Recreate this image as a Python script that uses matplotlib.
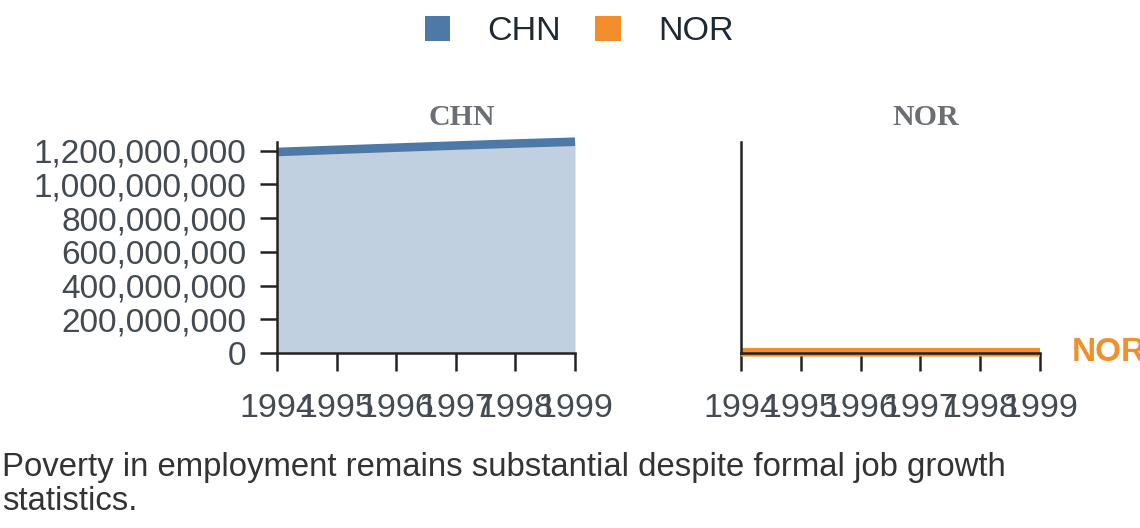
import matplotlib
matplotlib.use("Agg")
import matplotlib.pyplot as plt
from matplotlib.patches import Patch
from matplotlib.ticker import FuncFormatter, MultipleLocator

plt.rcParams['font.family'] = ['Liberation Sans', 'DejaVu Sans']

# data
years = [1994, 1995, 1996, 1997, 1998, 1999]
chn = [1191835000, 1204855000, 1217550000, 1230075000, 1241935000, 1252735000]
nor = [4336613, 4359184, 4381336, 4405157, 4431464, 4461913]
countries = ["CHN", "NOR"]
colors = {"CHN": "#4e79a7", "NOR": "#f28e2b"}
series = {"CHN": chn, "NOR": nor}
caption = ("Poverty in employment remains substantial despite formal job growth\n"
           "statistics.")

tick_col = "#444a52"
spine_col = "#222222"

fig = plt.figure(figsize=(11.4, 5.28), dpi=100)
ax1 = fig.add_axes([0.243, 0.3314, 0.2614, 0.4002])
ax2 = fig.add_axes([0.65, 0.3314, 0.2623, 0.4002], sharey=ax1)

ymax = max(chn)
for ax, c in zip([ax1, ax2], countries):
    vals = series[c]
    ax.fill_between(years, 0, vals, color=colors[c], alpha=0.35, lw=0)
    ax.plot(years, vals, color=colors[c], lw=6.2, clip_on=False,
            solid_capstyle='butt')
    ax.set_xlim(years[0], years[-1])
    ax.set_ylim(0, ymax)
    ax.set_xticks(years)
    for s in ['top', 'right']:
        ax.spines[s].set_visible(False)
    for s in ['left', 'bottom']:
        ax.spines[s].set_color(spine_col)
        ax.spines[s].set_linewidth(1.8)
    ax.tick_params(axis='x', length=13, width=1.8, color=spine_col,
                   labelsize=24.5, labelcolor=tick_col, pad=16)
    ax.tick_params(axis='y', length=12, width=1.8, color=spine_col,
                   labelsize=24, labelcolor=tick_col, pad=10)
    # facet title, sits a bit right of the panel centre
    pos = ax.get_position()
    fig.text(pos.x0 + pos.width / 2 + 0.031, 0.778, c, ha='center', va='center',
             family='Liberation Serif', fontweight='bold', fontsize=21.5,
             color='#6b6e73')

ax1.yaxis.set_major_locator(MultipleLocator(200000000))
ax1.yaxis.set_major_formatter(FuncFormatter(lambda v, p: f"{int(v):,}"))
ax2.tick_params(axis='y', left=False, labelleft=False)

# end label for NOR
ax2.annotate("NOR", xy=(years[-1], nor[-1]), xytext=(23, 0),
             textcoords='offset points', va='center', ha='left',
             fontsize=24, fontweight='bold', color=colors["NOR"],
             annotation_clip=False)

handles = [Patch(facecolor=colors[c], edgecolor='none') for c in countries]
fig.legend(handles, countries, loc='center', bbox_to_anchor=(0.508, 0.94),
           ncol=2, frameon=False, fontsize=24.5, handlelength=0.75,
           handleheight=0.75, handletextpad=1.1, columnspacing=1.0,
           labelcolor='#1f2933')

fig.text(0.002, 1 - 452 / 528, caption, ha='left', va='top', fontsize=23.7,
         color='#333333', linespacing=1.13)

fig.savefig("out.png", dpi=100)
